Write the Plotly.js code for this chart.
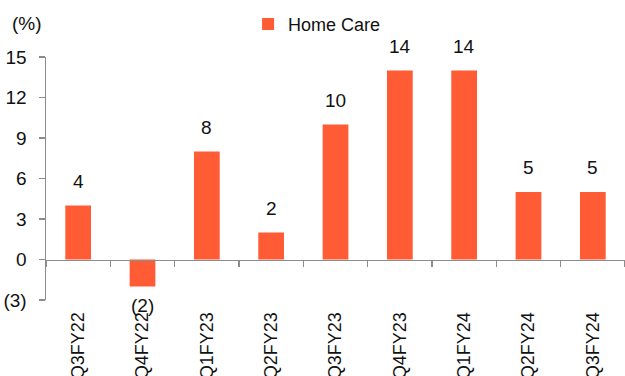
<!DOCTYPE html>
<html>
<head>
<meta charset="utf-8">
<script src="https://cdn.plot.ly/plotly-3.0.1.min.js"></script>
<style>
  html, body { margin: 0; padding: 0; background: #fff; }
  #chart { width: 625px; height: 376px; }
</style>
</head>
<body>
<div id="chart"></div>
<script>
const categories = ["Q3FY22","Q4FY22","Q1FY23","Q2FY23","Q3FY23","Q4FY23","Q1FY24","Q2FY24","Q3FY24"];
const homeCare = [4, -2, 8, 2, 10, 14, 14, 5, 5];
const yTickVals = [-3, 0, 3, 6, 9, 12, 15];
const yTickText = ["(3)", "0", "3", "6", "9", "12", "15"];
const yRange = [-3, 15];
const seriesName = "Home Care";
const unitLabel = "(%)";

const FONT = "'Liberation Sans Narrow', 'Arial Narrow', 'Liberation Sans', Arial, sans-serif";
const BAR = "#FF5B35";
const AXIS = "#8C8C8C";

function fmt(v) { return v < 0 ? "(" + Math.abs(v) + ")" : String(v); }

const trace = {
  type: "bar",
  x: categories,
  y: homeCare,
  name: seriesName,
  marker: { color: BAR },
  width: 0.4,
  hoverinfo: "skip"
};

const annotations = categories.map((c, i) => ({
  x: c, y: homeCare[i], xref: "x", yref: "y",
  text: fmt(homeCare[i]),
  showarrow: false,
  yanchor: homeCare[i] < 0 ? "top" : "bottom",
  yshift: homeCare[i] < 0 ? -6 : 12,
  font: { family: FONT, size: 19, color: "#111" }
}));
annotations.push({
  xref: "paper", yref: "paper", x: -0.062, y: 1.085,
  xanchor: "left", yanchor: "bottom",
  text: unitLabel, showarrow: false,
  font: { family: FONT, size: 19, color: "#111" }
});

const zeroPos = (0 - yRange[0]) / (yRange[1] - yRange[0]);

const layout = {
  width: 625, height: 376,
  margin: { l: 46, r: 0, t: 57, b: 76 },
  paper_bgcolor: "#fff", plot_bgcolor: "#fff",
  showlegend: true,
  legend: {
    x: 0.349, y: 1.211, xanchor: "left", yanchor: "top",
    orientation: "h",
    font: { family: FONT, size: 18, color: "#111" },
    itemwidth: 30
  },
  bargap: 0.6,
  xaxis: {
    type: "category",
    anchor: "free", position: zeroPos,
    showline: true, linecolor: AXIS, linewidth: 1.5,
    ticks: "outside", ticklen: 6, tickcolor: AXIS, tickwidth: 1.5,
    tickson: "boundaries",
    tickangle: -90,
    ticklabelstandoff: 44,
    showgrid: false, zeroline: false,
    tickfont: { family: FONT, size: 18, color: "#111" },
    fixedrange: true
  },
  yaxis: {
    range: yRange,
    tickvals: yTickVals, ticktext: yTickText,
    showline: true, linecolor: AXIS, linewidth: 1.5,
    ticks: "outside", ticklen: 6, tickcolor: AXIS, tickwidth: 1.5,
    ticklabelstandoff: 8,
    showgrid: false, zeroline: false,
    tickfont: { family: FONT, size: 19, color: "#111" },
    fixedrange: true
  },
  annotations: annotations
};

Plotly.newPlot("chart", [trace], layout, { staticPlot: true, displayModeBar: false });
</script>
</body>
</html>
